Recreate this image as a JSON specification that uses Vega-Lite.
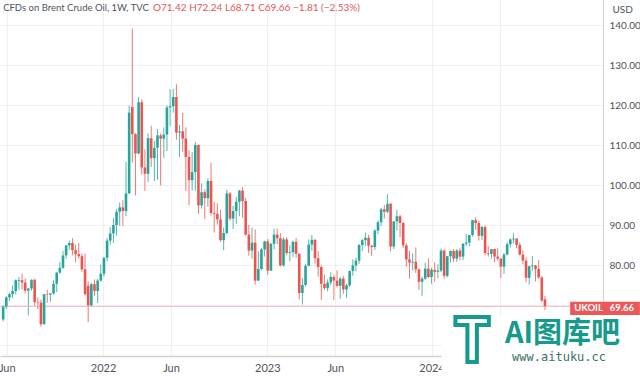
{
  "$schema": "https://vega.github.io/schema/vega-lite/v6.json",
  "width": 603,
  "height": 356,
  "autosize": {"type": "none"},
  "padding": {"left": 0, "top": 0, "right": 37, "bottom": 23},
  "background": "#ffffff",
  "config": {"view": {"stroke": null}, "font": "Lato"},
  "data": {"values": [
    {"d":"2021-05-24","o":66.4,"h":69.9,"l":65.9,"c":69.6},
    {"d":"2021-05-31","o":69.6,"h":72.2,"l":69.0,"c":71.9},
    {"d":"2021-06-07","o":71.9,"h":73.1,"l":71.0,"c":72.7},
    {"d":"2021-06-14","o":72.7,"h":74.9,"l":71.7,"c":73.5},
    {"d":"2021-06-21","o":73.5,"h":76.4,"l":72.6,"c":76.2},
    {"d":"2021-06-28","o":76.0,"h":77.0,"l":73.8,"c":76.2},
    {"d":"2021-07-05","o":76.2,"h":77.8,"l":73.9,"c":75.6},
    {"d":"2021-07-12","o":75.6,"h":76.6,"l":72.9,"c":73.6},
    {"d":"2021-07-19","o":73.6,"h":74.3,"l":67.4,"c":74.1},
    {"d":"2021-07-26","o":74.1,"h":76.4,"l":73.6,"c":76.3},
    {"d":"2021-08-02","o":76.3,"h":76.5,"l":69.8,"c":70.7},
    {"d":"2021-08-09","o":70.7,"h":71.9,"l":69.0,"c":70.6},
    {"d":"2021-08-16","o":70.6,"h":71.4,"l":64.6,"c":65.2},
    {"d":"2021-08-23","o":65.2,"h":72.8,"l":65.1,"c":72.7},
    {"d":"2021-08-30","o":72.7,"h":73.8,"l":70.6,"c":72.6},
    {"d":"2021-09-06","o":72.6,"h":73.0,"l":70.8,"c":72.9},
    {"d":"2021-09-13","o":72.9,"h":76.2,"l":72.6,"c":75.3},
    {"d":"2021-09-20","o":75.3,"h":78.2,"l":73.2,"c":78.1},
    {"d":"2021-09-27","o":78.1,"h":80.8,"l":77.8,"c":79.3},
    {"d":"2021-10-04","o":79.3,"h":83.5,"l":79.0,"c":82.4},
    {"d":"2021-10-11","o":82.4,"h":84.9,"l":81.6,"c":84.9},
    {"d":"2021-10-18","o":84.9,"h":86.1,"l":83.8,"c":85.5},
    {"d":"2021-10-25","o":85.5,"h":86.7,"l":82.4,"c":83.7},
    {"d":"2021-11-01","o":83.7,"h":85.1,"l":80.6,"c":82.7},
    {"d":"2021-11-08","o":82.7,"h":85.5,"l":81.6,"c":82.2},
    {"d":"2021-11-15","o":82.2,"h":82.9,"l":78.3,"c":78.9},
    {"d":"2021-11-22","o":78.9,"h":82.8,"l":72.4,"c":72.7},
    {"d":"2021-11-29","o":74.8,"h":75.9,"l":65.7,"c":69.9},
    {"d":"2021-12-06","o":69.9,"h":75.6,"l":69.5,"c":75.2},
    {"d":"2021-12-13","o":75.2,"h":76.4,"l":72.3,"c":73.5},
    {"d":"2021-12-20","o":73.5,"h":76.5,"l":70.5,"c":76.1},
    {"d":"2021-12-27","o":76.1,"h":80.1,"l":75.9,"c":77.8},
    {"d":"2022-01-03","o":77.8,"h":82.0,"l":77.1,"c":81.8},
    {"d":"2022-01-10","o":81.8,"h":86.7,"l":80.9,"c":86.1},
    {"d":"2022-01-17","o":86.1,"h":89.5,"l":85.1,"c":87.9},
    {"d":"2022-01-24","o":87.9,"h":91.7,"l":85.5,"c":90.0},
    {"d":"2022-01-31","o":90.0,"h":94.0,"l":87.3,"c":93.3},
    {"d":"2022-02-07","o":93.3,"h":95.6,"l":89.8,"c":94.4},
    {"d":"2022-02-14","o":94.4,"h":96.2,"l":89.8,"c":93.5},
    {"d":"2022-02-21","o":93.5,"h":105.8,"l":92.2,"c":97.9},
    {"d":"2022-02-28","o":97.9,"h":119.8,"l":97.8,"c":118.1},
    {"d":"2022-03-07","o":119.5,"h":139.1,"l":105.6,"c":112.7},
    {"d":"2022-03-14","o":112.7,"h":113.0,"l":97.4,"c":107.9},
    {"d":"2022-03-21","o":107.9,"h":122.0,"l":107.6,"c":120.7},
    {"d":"2022-03-28","o":120.7,"h":121.4,"l":102.6,"c":104.4},
    {"d":"2022-04-04","o":104.4,"h":108.9,"l":98.5,"c":102.8},
    {"d":"2022-04-11","o":102.8,"h":112.9,"l":100.8,"c":111.7},
    {"d":"2022-04-18","o":111.7,"h":114.8,"l":104.5,"c":106.7},
    {"d":"2022-04-25","o":106.7,"h":111.0,"l":101.0,"c":109.3},
    {"d":"2022-05-02","o":109.3,"h":114.0,"l":101.3,"c":112.4},
    {"d":"2022-05-09","o":112.4,"h":112.9,"l":99.9,"c":111.6},
    {"d":"2022-05-16","o":111.6,"h":114.4,"l":106.8,"c":112.6},
    {"d":"2022-05-23","o":112.6,"h":119.9,"l":108.5,"c":119.4},
    {"d":"2022-05-30","o":119.4,"h":124.0,"l":114.7,"c":119.7},
    {"d":"2022-06-06","o":119.7,"h":124.0,"l":118.1,"c":122.0},
    {"d":"2022-06-13","o":122.0,"h":125.2,"l":111.3,"c":113.1},
    {"d":"2022-06-20","o":113.1,"h":115.0,"l":107.0,"c":113.4},
    {"d":"2022-06-27","o":113.4,"h":118.0,"l":108.3,"c":111.6},
    {"d":"2022-07-04","o":111.6,"h":114.4,"l":98.5,"c":107.0},
    {"d":"2022-07-11","o":107.0,"h":108.7,"l":95.0,"c":101.2},
    {"d":"2022-07-18","o":101.2,"h":108.2,"l":98.6,"c":103.2},
    {"d":"2022-07-25","o":103.2,"h":110.8,"l":98.6,"c":110.0},
    {"d":"2022-08-01","o":110.0,"h":110.1,"l":92.8,"c":94.9},
    {"d":"2022-08-08","o":94.9,"h":100.4,"l":94.1,"c":98.2},
    {"d":"2022-08-15","o":98.2,"h":98.9,"l":91.5,"c":96.7},
    {"d":"2022-08-22","o":96.7,"h":101.7,"l":94.6,"c":101.0},
    {"d":"2022-08-29","o":101.0,"h":105.6,"l":92.4,"c":93.0},
    {"d":"2022-09-05","o":93.0,"h":95.8,"l":88.1,"c":92.8},
    {"d":"2022-09-12","o":92.8,"h":95.4,"l":90.1,"c":91.4},
    {"d":"2022-09-19","o":91.4,"h":93.8,"l":85.8,"c":86.2},
    {"d":"2022-09-26","o":86.2,"h":89.4,"l":83.7,"c":88.0},
    {"d":"2022-10-03","o":88.0,"h":98.8,"l":87.6,"c":97.9},
    {"d":"2022-10-10","o":97.9,"h":98.2,"l":91.1,"c":91.6},
    {"d":"2022-10-17","o":91.6,"h":94.8,"l":89.0,"c":93.5},
    {"d":"2022-10-24","o":93.5,"h":97.0,"l":90.3,"c":95.8},
    {"d":"2022-10-31","o":95.8,"h":98.8,"l":92.2,"c":98.6},
    {"d":"2022-11-07","o":98.6,"h":99.5,"l":91.8,"c":96.0},
    {"d":"2022-11-14","o":96.0,"h":96.8,"l":87.3,"c":87.6},
    {"d":"2022-11-21","o":87.6,"h":90.0,"l":82.3,"c":83.6},
    {"d":"2022-11-28","o":83.6,"h":89.4,"l":81.6,"c":85.6},
    {"d":"2022-12-05","o":85.6,"h":88.9,"l":75.1,"c":76.1},
    {"d":"2022-12-12","o":76.1,"h":83.4,"l":76.0,"c":79.0},
    {"d":"2022-12-19","o":79.0,"h":84.3,"l":78.6,"c":83.9},
    {"d":"2022-12-26","o":83.9,"h":86.1,"l":82.1,"c":85.9},
    {"d":"2023-01-02","o":85.9,"h":86.5,"l":77.6,"c":78.6},
    {"d":"2023-01-09","o":78.6,"h":85.6,"l":78.5,"c":85.3},
    {"d":"2023-01-16","o":85.3,"h":89.1,"l":83.9,"c":87.6},
    {"d":"2023-01-23","o":87.6,"h":89.1,"l":85.2,"c":86.7},
    {"d":"2023-01-30","o":86.7,"h":88.0,"l":79.6,"c":79.9},
    {"d":"2023-02-06","o":79.9,"h":86.9,"l":79.6,"c":86.4},
    {"d":"2023-02-13","o":86.4,"h":86.9,"l":82.5,"c":83.0},
    {"d":"2023-02-20","o":83.0,"h":84.9,"l":80.9,"c":83.2},
    {"d":"2023-02-27","o":83.2,"h":86.1,"l":82.0,"c":85.8},
    {"d":"2023-03-06","o":85.8,"h":86.8,"l":81.8,"c":82.8},
    {"d":"2023-03-13","o":82.8,"h":83.0,"l":71.4,"c":73.0},
    {"d":"2023-03-20","o":73.0,"h":76.7,"l":70.1,"c":75.0},
    {"d":"2023-03-27","o":75.0,"h":80.3,"l":74.6,"c":79.8},
    {"d":"2023-04-03","o":79.8,"h":86.4,"l":79.7,"c":85.1},
    {"d":"2023-04-10","o":85.1,"h":87.5,"l":83.6,"c":86.3},
    {"d":"2023-04-17","o":86.3,"h":86.5,"l":80.4,"c":81.7},
    {"d":"2023-04-24","o":81.7,"h":83.5,"l":77.1,"c":79.5},
    {"d":"2023-05-01","o":79.5,"h":79.9,"l":71.3,"c":75.3},
    {"d":"2023-05-08","o":75.3,"h":77.6,"l":73.8,"c":74.2},
    {"d":"2023-05-15","o":74.2,"h":76.4,"l":73.4,"c":75.6},
    {"d":"2023-05-22","o":75.6,"h":78.2,"l":75.0,"c":77.0},
    {"d":"2023-05-29","o":77.0,"h":77.6,"l":71.3,"c":76.1},
    {"d":"2023-06-05","o":76.1,"h":78.7,"l":74.4,"c":74.8},
    {"d":"2023-06-12","o":74.8,"h":77.0,"l":71.6,"c":76.6},
    {"d":"2023-06-19","o":76.6,"h":77.2,"l":72.8,"c":73.9},
    {"d":"2023-06-26","o":73.9,"h":75.3,"l":71.8,"c":74.9},
    {"d":"2023-07-03","o":74.9,"h":78.6,"l":74.5,"c":78.5},
    {"d":"2023-07-10","o":78.5,"h":81.4,"l":77.3,"c":79.9},
    {"d":"2023-07-17","o":79.9,"h":81.8,"l":78.4,"c":81.1},
    {"d":"2023-07-24","o":81.1,"h":85.2,"l":80.3,"c":85.0},
    {"d":"2023-07-31","o":85.0,"h":86.5,"l":83.5,"c":86.2},
    {"d":"2023-08-07","o":86.2,"h":88.1,"l":84.8,"c":86.8},
    {"d":"2023-08-14","o":86.8,"h":87.5,"l":83.0,"c":84.8},
    {"d":"2023-08-21","o":84.8,"h":85.0,"l":82.3,"c":84.5},
    {"d":"2023-08-28","o":84.5,"h":89.0,"l":83.7,"c":88.6},
    {"d":"2023-09-04","o":88.6,"h":91.2,"l":87.7,"c":90.7},
    {"d":"2023-09-11","o":90.7,"h":94.3,"l":89.8,"c":93.9},
    {"d":"2023-09-18","o":93.9,"h":95.0,"l":91.6,"c":93.3},
    {"d":"2023-09-25","o":93.3,"h":97.7,"l":92.9,"c":95.3},
    {"d":"2023-10-02","o":95.3,"h":95.5,"l":83.4,"c":84.6},
    {"d":"2023-10-09","o":84.6,"h":91.0,"l":84.0,"c":90.9},
    {"d":"2023-10-16","o":90.9,"h":93.8,"l":88.6,"c":92.2},
    {"d":"2023-10-23","o":92.2,"h":92.5,"l":87.0,"c":90.5},
    {"d":"2023-10-30","o":90.5,"h":90.8,"l":84.3,"c":84.9},
    {"d":"2023-11-06","o":84.9,"h":85.4,"l":79.6,"c":81.4},
    {"d":"2023-11-13","o":81.4,"h":83.6,"l":76.6,"c":80.6},
    {"d":"2023-11-20","o":80.6,"h":82.9,"l":78.6,"c":80.8},
    {"d":"2023-11-27","o":80.8,"h":84.4,"l":78.0,"c":78.9},
    {"d":"2023-12-04","o":78.9,"h":79.2,"l":73.8,"c":75.8},
    {"d":"2023-12-11","o":75.8,"h":77.1,"l":72.3,"c":76.6},
    {"d":"2023-12-18","o":76.6,"h":80.6,"l":76.2,"c":79.1},
    {"d":"2023-12-25","o":79.1,"h":81.7,"l":76.7,"c":77.0},
    {"d":"2024-01-01","o":77.0,"h":79.4,"l":75.3,"c":78.8},
    {"d":"2024-01-08","o":78.8,"h":80.7,"l":75.8,"c":78.3},
    {"d":"2024-01-15","o":78.3,"h":80.2,"l":76.7,"c":78.6},
    {"d":"2024-01-22","o":78.6,"h":84.1,"l":78.2,"c":83.6},
    {"d":"2024-01-29","o":83.6,"h":83.9,"l":76.6,"c":77.3},
    {"d":"2024-02-05","o":77.3,"h":82.2,"l":76.9,"c":82.2},
    {"d":"2024-02-12","o":82.2,"h":83.6,"l":80.6,"c":83.5},
    {"d":"2024-02-19","o":83.5,"h":84.0,"l":80.7,"c":81.6},
    {"d":"2024-02-26","o":81.6,"h":84.0,"l":80.8,"c":83.6},
    {"d":"2024-03-04","o":83.6,"h":84.2,"l":81.2,"c":82.1},
    {"d":"2024-03-11","o":82.1,"h":85.5,"l":81.2,"c":85.3},
    {"d":"2024-03-18","o":85.3,"h":87.7,"l":84.7,"c":85.6},
    {"d":"2024-03-25","o":85.6,"h":87.5,"l":84.7,"c":87.5},
    {"d":"2024-04-01","o":87.5,"h":91.3,"l":87.1,"c":91.2},
    {"d":"2024-04-08","o":91.2,"h":91.9,"l":88.8,"c":90.5},
    {"d":"2024-04-15","o":90.5,"h":91.0,"l":86.1,"c":87.3},
    {"d":"2024-04-22","o":87.3,"h":89.7,"l":86.3,"c":89.5},
    {"d":"2024-04-29","o":89.5,"h":89.9,"l":82.4,"c":83.0},
    {"d":"2024-05-06","o":83.0,"h":84.7,"l":82.1,"c":82.8},
    {"d":"2024-05-13","o":82.8,"h":84.0,"l":81.6,"c":84.0},
    {"d":"2024-05-20","o":84.0,"h":84.1,"l":80.7,"c":82.1},
    {"d":"2024-05-27","o":82.1,"h":84.2,"l":81.1,"c":81.6},
    {"d":"2024-06-03","o":81.6,"h":81.7,"l":76.8,"c":79.6},
    {"d":"2024-06-10","o":79.6,"h":83.0,"l":77.8,"c":82.6},
    {"d":"2024-06-17","o":82.6,"h":85.8,"l":82.4,"c":85.2},
    {"d":"2024-06-24","o":85.2,"h":86.6,"l":84.4,"c":86.4},
    {"d":"2024-07-01","o":86.4,"h":87.9,"l":85.4,"c":86.6},
    {"d":"2024-07-08","o":86.6,"h":86.7,"l":84.2,"c":85.0},
    {"d":"2024-07-15","o":85.0,"h":85.6,"l":82.4,"c":82.6},
    {"d":"2024-07-22","o":82.6,"h":83.6,"l":80.2,"c":81.1},
    {"d":"2024-07-29","o":81.1,"h":81.9,"l":75.7,"c":76.8},
    {"d":"2024-08-05","o":76.8,"h":79.8,"l":75.1,"c":79.7},
    {"d":"2024-08-12","o":79.7,"h":82.2,"l":78.5,"c":79.9},
    {"d":"2024-08-19","o":79.9,"h":80.0,"l":75.9,"c":79.0},
    {"d":"2024-08-26","o":79.0,"h":81.2,"l":76.6,"c":76.9},
    {"d":"2024-09-02","o":76.9,"h":77.2,"l":70.8,"c":71.1},
    {"d":"2024-09-09","o":71.42,"h":72.24,"l":68.71,"c":69.66}
  ]},
  "layer": [
    {
      "mark": {"type": "rule", "strokeWidth": 1, "opacity": 0.8},
      "encoding": {
        "x": {
          "field": "d", "type": "temporal",
          "scale": {"type": "utc", "padding": 0, "domain": [{"year": 2021, "month": 5, "date": 17, "utc": true}, {"year": 2025, "month": 1, "date": 16, "utc": true}]},
          "axis": {
            "title": null,
            "values": [
              {"year": 2021, "month": 6, "date": 1, "utc": true},
              {"year": 2022, "month": 1, "date": 1, "utc": true},
              {"year": 2022, "month": 6, "date": 1, "utc": true},
              {"year": 2023, "month": 1, "date": 1, "utc": true},
              {"year": 2023, "month": 6, "date": 1, "utc": true},
              {"year": 2024, "month": 1, "date": 1, "utc": true},
              {"year": 2024, "month": 6, "date": 1, "utc": true}
            ],
            "labelExpr": "utcFormat(datum.value, '%m') == '06' && utcFormat(datum.value, '%Y') == '2024' ? '' : (utcFormat(datum.value, '%m') == '01' ? utcFormat(datum.value, '%Y') : utcFormat(datum.value, '%b'))",
            "grid": true, "gridColor": "#f0f0f0",
            "ticks": false, "domainColor": "#d3d3d3", "domainWidth": 1.5,
            "labelPadding": 6, "labelFontSize": 11, "labelColor": "#50535e", "labelFont": "Lato",
            "labelFlush": false, "labelOverlap": false
          }
        },
        "y": {
          "field": "l", "type": "quantitative",
          "scale": {"domain": [57.25, 146.25], "zero": false, "nice": false},
          "axis": {
            "orient": "right",
            "values": [60, 70, 80, 90, 100, 110, 120, 130, 140],
            "labelExpr": "datum.value < 75 ? '' : format(datum.value, '.2f')",
            "grid": true, "gridColor": "#f0f0f0",
            "ticks": false, "domainColor": "#d3d3d3",
            "labelPadding": 6, "labelFontSize": 10, "labelColor": "#50535e", "labelFont": "Lato",
            "title": "USD", "titleAngle": 0, "titleAlign": "left", "titleBaseline": "middle",
            "titleX": 9, "titleY": 9, "titleFontSize": 10, "titleFontWeight": "normal",
            "titleColor": "#50535e", "titleFont": "Lato"
          }
        },
        "y2": {"field": "h"},
        "color": {"condition": {"test": "datum.c >= datum.o", "value": "#26a69a"}, "value": "#ef5350"}
      }
    },
    {
      "data": {"values": [{"p": 69.66}]},
      "mark": {"type": "rule", "color": "#f2b9b9", "strokeWidth": 1},
      "encoding": {"y": {"field": "p", "type": "quantitative"}}
    },
    {
      "mark": {"type": "bar", "size": 2.6},
      "encoding": {
        "x": {"field": "d", "type": "temporal"},
        "y": {"field": "o", "type": "quantitative"},
        "y2": {"field": "c"},
        "color": {"condition": {"test": "datum.c >= datum.o", "value": "#26a69a"}, "value": "#ef5350"}
      }
    },
    {
      "data": {"values": [{"t": "CFDs on Brent Crude Oil, 1W, TVC"}]},
      "mark": {"type": "text", "align": "left", "baseline": "middle", "font": "Lato", "fontSize": 9.5, "color": "#50535e"},
      "encoding": {
        "text": {"field": "t"},
        "x": {"datum": {"year": 2021, "month": 5, "date": 24, "utc": true}, "type": "temporal"},
        "y": {"datum": 144.25, "type": "quantitative"}
      }
    },
    {
      "data": {"values": [{"t": "O71.42 H72.24 L68.71 C69.66 −1.81 (−2.53%)"}]},
      "mark": {"type": "text", "align": "left", "baseline": "middle", "font": "Lato", "fontSize": 10, "color": "#e0575b"},
      "encoding": {
        "text": {"field": "t"},
        "x": {"datum": {"year": 2022, "month": 4, "date": 22, "utc": true}, "type": "temporal"},
        "y": {"datum": 144.25, "type": "quantitative"}
      }
    },
    {
      "data": {"values": [{"t": "UKOIL"}]},
      "mark": {"type": "rect", "color": "#ec5858"},
      "encoding": {
        "x": {"datum": {"year": 2024, "month": 11, "date": 4, "utc": true}, "type": "temporal"},
        "x2": {"datum": {"year": 2025, "month": 4, "date": 8, "utc": true}},
        "y": {"datum": 70.83, "type": "quantitative"},
        "y2": {"datum": 67.5}
      }
    },
    {
      "data": {"values": [{"t": "UKOIL"}]},
      "mark": {"type": "text", "align": "left", "baseline": "middle", "font": "Lato", "fontSize": 9.5, "fontWeight": "bold", "color": "#ffffff"},
      "encoding": {
        "text": {"field": "t"},
        "x": {"datum": {"year": 2024, "month": 11, "date": 13, "utc": true}, "type": "temporal"},
        "y": {"datum": 69.17, "type": "quantitative"}
      }
    },
    {
      "data": {"values": [{"t": "69.66"}]},
      "mark": {"type": "text", "align": "right", "baseline": "middle", "font": "Lato", "fontSize": 9.5, "fontWeight": "bold", "color": "#ffffff"},
      "encoding": {
        "text": {"field": "t"},
        "x": {"datum": {"year": 2025, "month": 3, "date": 26, "utc": true}, "type": "temporal"},
        "y": {"datum": 69.17, "type": "quantitative"}
      }
    },
    {
      "data": {"values": [{"t": "watermark"}]},
      "mark": {"type": "rect", "color": "#ffffff"},
      "encoding": {
        "x": {"datum": {"year": 2024, "month": 1, "date": 23, "utc": true}, "type": "temporal"},
        "x2": {"datum": {"year": 2025, "month": 4, "date": 8, "utc": true}},
        "y": {"datum": 67.25, "type": "quantitative"},
        "y2": {"datum": 51.5}
      }
    },
    {
      "data": {"values": [{"t": "T"}]},
      "mark": {"type": "text", "align": "center", "baseline": "middle", "font": "Noto Sans", "fontSize": 62, "fontWeight": "bold", "fill": "#ffffff", "stroke": "#159a8c", "strokeWidth": 4},
      "encoding": {
        "text": {"field": "t"},
        "x": {"datum": {"year": 2024, "month": 3, "date": 31, "utc": true}, "type": "temporal"},
        "y": {"datum": 60.5, "type": "quantitative"}
      }
    },
    {
      "data": {"values": [{"t": "AI图库吧"}]},
      "mark": {"type": "text", "align": "left", "baseline": "middle", "font": "Noto Sans CJK SC", "fontSize": 29, "fontWeight": "bold", "color": "#159a8c"},
      "encoding": {
        "text": {"field": "t"},
        "x": {"datum": {"year": 2024, "month": 6, "date": 12, "utc": true}, "type": "temporal"},
        "y": {"datum": 62.75, "type": "quantitative"}
      }
    },
    {
      "data": {"values": [{"t": "www.aituku.cc"}]},
      "mark": {"type": "text", "align": "left", "baseline": "middle", "font": "DejaVu Sans Mono", "fontSize": 12, "color": "#3a6f6a"},
      "encoding": {
        "text": {"field": "t"},
        "x": {"datum": {"year": 2024, "month": 6, "date": 28, "utc": true}, "type": "temporal"},
        "y": {"datum": 57.0, "type": "quantitative"}
      }
    }
  ]
}
